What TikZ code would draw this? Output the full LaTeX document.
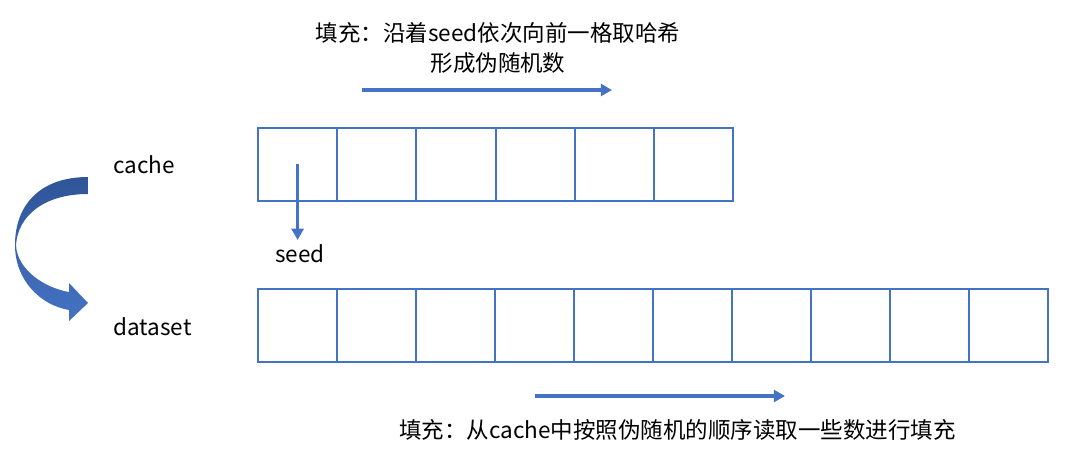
\documentclass[tikz,border=0pt]{standalone}
\usepackage{fontspec}
\setmainfont{Noto Sans CJK SC}
\usepackage{tikz}
\usetikzlibrary{arrows.meta}
\definecolor{cellblue}{RGB}{68,114,196}
\definecolor{darkblue}{RGB}{47,85,151}

\begin{document}
\begin{tikzpicture}[every node/.style={font=\fontsize{16}{21}\selectfont},
  cell/.style={draw=cellblue, line width=1.5pt, minimum width=1.98cm, minimum height=1.83cm, inner sep=0pt},
  flow/.style={-{Triangle[length=8pt,width=8.5pt]}, draw=cellblue, line width=2.2pt}]
\useasboundingbox (0,0) rectangle (27.175,-11.65);

% Caixas
\foreach \i in {1,...,6}
  \node[cell] (c\i) at ({7.44+(\i-1)*1.98},-4.11) {};
\foreach \i in {1,...,10}
  \node[cell] (d\i) at ({7.44+(\i-1)*1.975},-8.14) {};

% Rotulos
\node[anchor=west, inner sep=0pt] (cache) at (2.83,-4.12) {cache};
\node[anchor=west, inner sep=0pt] (dataset) at (2.83,-8.17) {dataset};
\node (seed) at (7.5,-6.35) {seed};
\node[align=center] (top) at (12.45,-1.2) {填充：沿着seed依次向前一格取哈希\\形成伪随机数};
\node (bottom) at (16.94,-10.75) {填充：从cache中按照伪随机的顺序读取一些数进行填充};

% Setas
\coordinate (ta) at (9.05,-2.25);
\coordinate (tb) at (15.3,-2.25);
\coordinate (ba) at (13.375,-9.9);
\coordinate (bb) at (19.625,-9.9);
\draw[flow] (c1.center) -- (c1.center |- seed.north);
\draw[flow] (ta) -- (tb);
\draw[flow] (ba) -- (bb);

% Seta curva
\shade[top color=darkblue, bottom color=cellblue]
  (2.2,-4.425) .. controls (1.0,-4.425) and (0.375,-5.125) .. (0.375,-6.125)
  .. controls (0.375,-7.0) and (1.0,-7.625) .. (1.725,-7.75)
  -- (1.725,-8.025) -- (2.2,-7.575) -- (1.725,-7.075) -- (1.725,-7.3)
  .. controls (1.125,-7.2) and (0.425,-6.75) .. (0.4,-6.125)
  .. controls (0.45,-5.375) and (1.125,-4.85) .. (2.2,-4.85) -- cycle;
\end{tikzpicture}
\end{document}
